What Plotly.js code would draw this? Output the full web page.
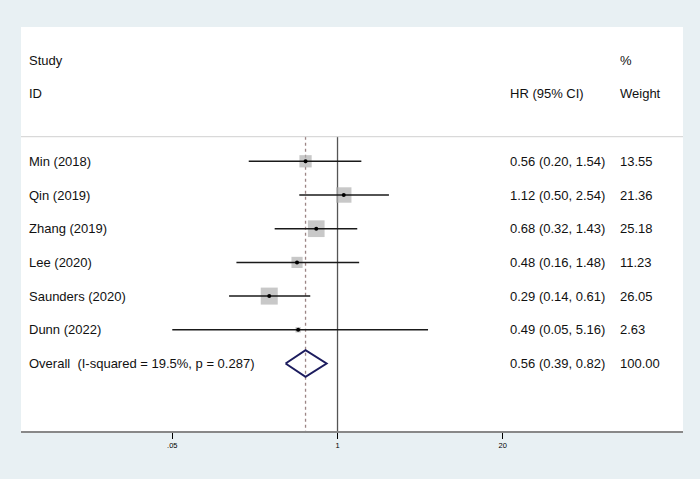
<!DOCTYPE html>
<html>
<head>
<meta charset="utf-8">
<script src="https://cdn.plot.ly/plotly-3.0.1.min.js"></script>
<style>html,body{margin:0;padding:0;background:#e8f0f3;}#chart{width:700px;height:479px;}</style>
</head>
<body>
<div id="chart"></div>
<script>
// ---- data ----
const studies = ["Min (2018)", "Qin (2019)", "Zhang (2019)", "Lee (2020)", "Saunders (2020)", "Dunn (2022)"];
const hr      = [0.56, 1.12, 0.68, 0.48, 0.29, 0.49];
const ciLow   = [0.20, 0.50, 0.32, 0.16, 0.14, 0.05];
const ciHigh  = [1.54, 2.54, 1.43, 1.48, 0.61, 5.16];
const weights = [13.55, 21.36, 25.18, 11.23, 26.05, 2.63];
const overallLabel = "Overall\u00a0\u00a0(I-squared = 19.5%, p = 0.287)";
const overallHR = 0.56, overallLow = 0.39, overallHigh = 0.82, overallWeight = 100.00;
const tickVals = [0.05, 1, 20];
const tickText = [".05", "1", "20"];

// ---- layout helpers ----
const rows = studies.map((s, i) => i);
const overallRow = studies.length;
const yRange = [8.003, -3.985];
const sepY = -0.73;
const font = "Liberation Sans, Arial, sans-serif";
const txtColor = "#111111";

const fmt = v => v.toFixed(2);

// CI lines
const ciX = [], ciY = [];
rows.forEach(i => { ciX.push(ciLow[i], ciHigh[i], null); ciY.push(i, i, null); });

const traces = [
  { // weight boxes
    type: "scatter", mode: "markers", x: hr, y: rows,
    marker: { symbol: "square", color: "#b0b0b0", size: weights.map(w => 3.33 * Math.sqrt(w)), line: { width: 0 } },
    hoverinfo: "skip"
  },
  { // CI lines
    type: "scatter", mode: "lines", x: ciX, y: ciY,
    line: { color: "#1a1a1a", width: 1.5 }, hoverinfo: "skip"
  },
  { // point estimates
    type: "scatter", mode: "markers", x: hr, y: rows,
    marker: { symbol: "circle", color: "#000", size: 4 }, hoverinfo: "skip"
  },
  { // overall diamond
    type: "scatter", mode: "lines",
    x: [overallLow, overallHR, overallHigh, overallHR, overallLow],
    y: [overallRow, overallRow - 0.395, overallRow, overallRow + 0.395, overallRow],
    line: { color: "#1c1c5e", width: 2 }, hoverinfo: "skip"
  }
];

const annotations = [];
function addText(xp, y, text) {
  annotations.push({ xref: "paper", yref: "y", x: xp, y: y, text: text, showarrow: false,
    xanchor: "left", yanchor: "middle", borderpad: 0,
    font: { family: font, size: 13, color: txtColor } });
}
const xStudy = 0.0105, xHR = 0.7365, xW = 0.903;
addText(xStudy, -3, "Study");
addText(xStudy, -2, "ID");
addText(xW, -3, "%");
addText(xHR, -2, "HR (95% CI)");
addText(xW, -2, "Weight");
rows.forEach(i => {
  addText(xStudy, i, studies[i]);
  addText(xHR, i, fmt(hr[i]) + " (" + fmt(ciLow[i]) + ", " + fmt(ciHigh[i]) + ")");
  addText(xW, i, fmt(weights[i]));
});
addText(xStudy, overallRow, overallLabel);
addText(xHR, overallRow, fmt(overallHR) + " (" + fmt(overallLow) + ", " + fmt(overallHigh) + ")");
addText(xW, overallRow, fmt(overallWeight));

const shapes = [
  { type: "line", xref: "paper", yref: "y", x0: 0, x1: 1, y0: sepY, y1: sepY,
    line: { color: "#d0d0d0", width: 1 } },
  { type: "line", xref: "x", yref: "y", x0: 1, x1: 1, y0: sepY, y1: yRange[0],
    line: { color: "#555", width: 1.3 }, layer: "below" },
  { type: "line", xref: "x", yref: "y", x0: overallHR, x1: overallHR, y0: sepY, y1: yRange[0],
    line: { color: "#9c8585", width: 1.3, dash: "3px,3px" }, layer: "below" }
];

const layout = {
  width: 700, height: 479,
  margin: { l: 21, r: 17, t: 27, b: 48 },
  paper_bgcolor: "#e8f0f3", plot_bgcolor: "#ffffff",
  showlegend: false,
  xaxis: {
    type: "log", range: [-2.492, 2.720], tickvals: tickVals, ticktext: tickText,
    ticks: "outside", ticklen: 6, tickwidth: 1, tickcolor: "#000",
    tickfont: { family: font, size: 7.5, color: "#000" },
    showline: true, linecolor: "#888", linewidth: 2, showgrid: false, zeroline: false, fixedrange: true
  },
  yaxis: { range: yRange, visible: false, showgrid: false, zeroline: false, fixedrange: true },
  annotations: annotations, shapes: shapes
};

Plotly.newPlot("chart", traces, layout, { displayModeBar: false, staticPlot: true });
</script>
</body>
</html>
